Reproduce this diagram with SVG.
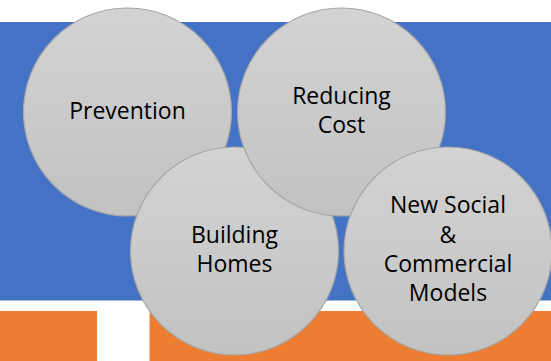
<svg xmlns="http://www.w3.org/2000/svg" width="551" height="361" viewBox="0 0 551 361">
<defs>
<linearGradient id="g" x1="0" y1="0" x2="0" y2="1">
<stop offset="0" stop-color="#d3d3d3"/>
<stop offset="1" stop-color="#c2c2c2"/>
</linearGradient>
<style>
.c{fill:url(#g);stroke:#a6a6a6;stroke-width:1.2}
.t{font-family:"Open Sans","Liberation Sans",sans-serif;font-size:23px;fill:#000;text-anchor:middle}
</style>
</defs>
<rect width="551" height="361" fill="#fff"/>
<rect x="0" y="22" width="551" height="278.5" fill="#4472c4"/>
<rect x="0" y="311" width="97" height="50" fill="#ed7d31"/>
<rect x="149.5" y="311" width="401.5" height="50" fill="#ed7d31"/>
<g id="prevention">
<circle class="c" cx="127.5" cy="112" r="104"/>
<text class="t" x="127.5" y="119">Prevention</text>
</g>
<g id="building-homes">
<circle class="c" cx="234.5" cy="251" r="104"/>
<text class="t" x="234.5" y="243">Building</text>
<text class="t" x="234.5" y="272">Homes</text>
</g>
<g id="reducing-cost">
<circle class="c" cx="341.5" cy="112" r="104"/>
<text class="t" x="341.5" y="104">Reducing</text>
<text class="t" x="341.5" y="133">Cost</text>
</g>
<g id="new-social">
<circle class="c" cx="448" cy="251" r="104"/>
<text class="t" x="448" y="213">New Social</text>
<text class="t" x="448" y="243">&amp;</text>
<text class="t" x="448" y="272">Commercial</text>
<text class="t" x="448" y="301">Models</text>
</g>
<g id="connectors"/>
</svg>
